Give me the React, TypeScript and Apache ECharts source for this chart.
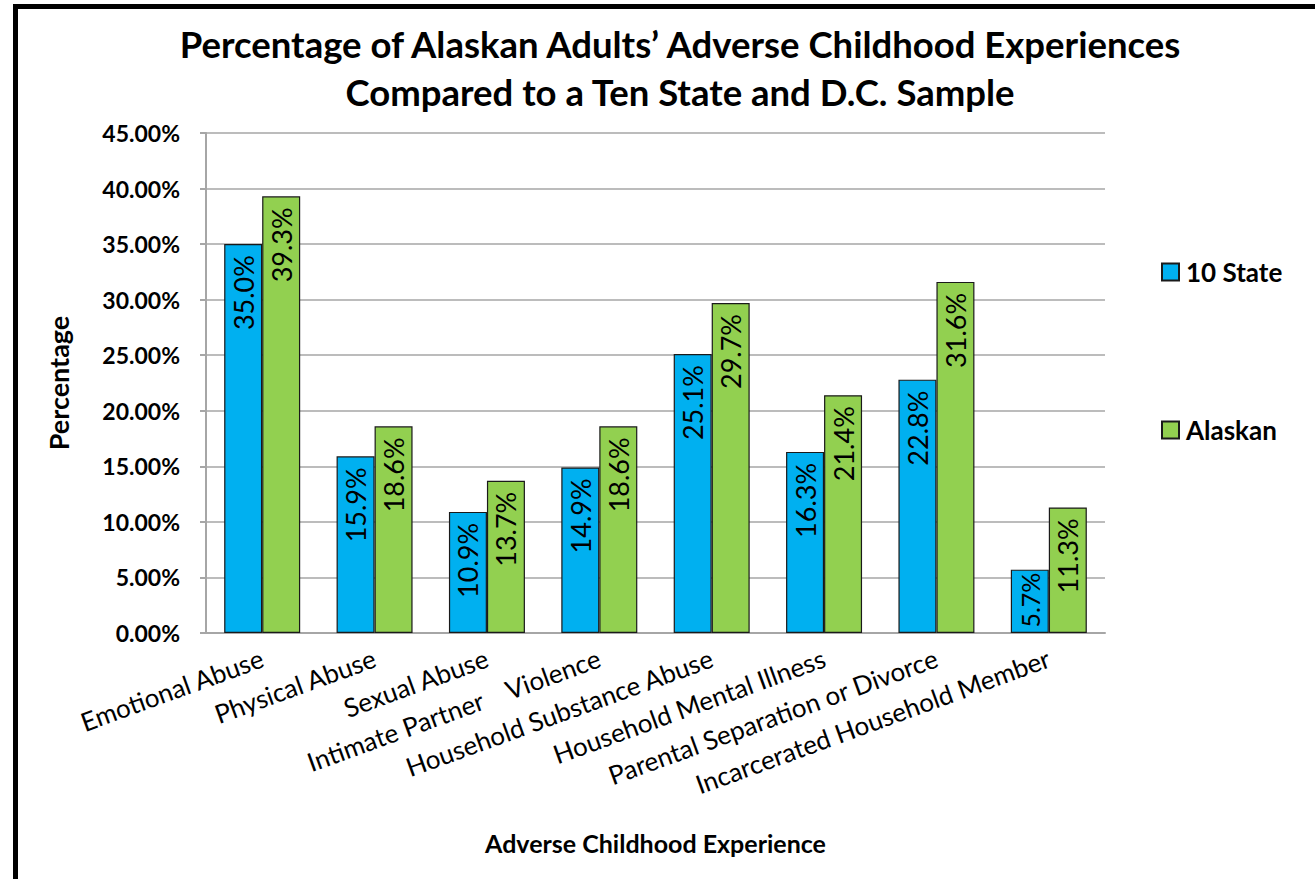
import React, { useEffect, useRef } from "react";
import * as echarts from "echarts";

const categories = [
  "Emotional Abuse",
  "Physical Abuse",
  "Sexual Abuse",
  "Intimate Partner    Violence",
  "Household Substance Abuse",
  "Household Mental Illness",
  "Parental Separation or Divorce",
  "Incarcerated Household Member",
];
const tenState = [35.0, 15.9, 10.9, 14.9, 25.1, 16.3, 22.8, 5.7];
const alaskan = [39.3, 18.6, 13.7, 18.6, 29.7, 21.4, 31.6, 11.3];
const seriesNames = ["10 State", "Alaskan"];
const titleLines = [
  "Percentage of Alaskan Adults\u2019 Adverse Childhood Experiences",
  "Compared to a Ten State and D.C. Sample",
];

const FONT = "Lato, 'Open Sans', sans-serif";

// short bars get their label pulled closer to the bar end so it fits (as Excel does)
const toItems = (vals: number[]) =>
  vals.map((v) => (v < 8 ? { value: v, label: { distance: 3, fontSize: 25 } } : v));

export default function App() {
  const ref = useRef<HTMLDivElement>(null);
  useEffect(() => {
    if (!ref.current) return;
    const chart = echarts.init(ref.current, null, { renderer: "svg" });
    const labelCfg = {
      show: true,
      position: "insideTop",
      rotate: 90,
      align: "right",
      verticalAlign: "middle",
      distance: 11,
      color: "#000",
      fontFamily: FONT,
      fontSize: 27,
      formatter: (p: any) => Number(p.value).toFixed(1) + "%",
    };
    chart.setOption({
      animation: false,
      backgroundColor: "#fff",
      textStyle: { fontFamily: FONT },
      title: {
        text: titleLines.join("\n"),
        left: 675,
        textAlign: "center",
        top: 15,
        textStyle: {
          fontFamily: FONT,
          fontWeight: "bold",
          fontSize: 36.5,
          lineHeight: 48,
          color: "#000",
        },
      },
      legend: {
        orient: "vertical",
        left: 1156,
        top: 254,
        itemGap: 132,
        itemWidth: 17,
        itemHeight: 17,
        icon: "rect",
        data: seriesNames,
        textStyle: { fontFamily: FONT, fontWeight: "bold", fontSize: 26, color: "#000", padding: [0, 0, 0, 2] },
      },
      grid: { left: 206, right: 210, top: 133, bottom: 246, containLabel: false },
      xAxis: {
        type: "category",
        data: categories,
        name: "Adverse Childhood Experience",
        nameLocation: "middle",
        nameGap: 197,
        nameTextStyle: { fontFamily: FONT, fontWeight: "bold", fontSize: 25, color: "#000" },
        axisLine: { show: true, lineStyle: { color: "#a6a6a6", width: 2 } },
        axisTick: { show: false },
        axisLabel: {
          rotate: 20,
          interval: 0,
          margin: 24,
          fontFamily: FONT,
          fontSize: 26,
          color: "#000",
        },
      },
      yAxis: {
        type: "value",
        min: 0,
        max: 45,
        interval: 5,
        name: "Percentage",
        nameLocation: "middle",
        nameGap: 134,
        nameTextStyle: { fontFamily: FONT, fontWeight: "bold", fontSize: 27, color: "#000" },
        axisLine: { show: true, lineStyle: { color: "#a6a6a6", width: 2 } },
        axisTick: { show: true, length: 6, lineStyle: { color: "#a6a6a6", width: 2 } },
        splitLine: { show: true, lineStyle: { color: "#a6a6a6", width: 1.5 } },
        axisLabel: {
          margin: 26,
          fontFamily: FONT,
          fontWeight: "bold",
          fontSize: 23,
          color: "#000",
          formatter: (v: number) => v.toFixed(2) + "%",
        },
      },
      series: [
        {
          name: seriesNames[0],
          type: "bar",
          data: toItems(tenState),
          barWidth: 38,
          barGap: "0%",
          itemStyle: { color: "#00B0F0", borderColor: "#1a1a1a", borderWidth: 1.2 },
          label: labelCfg,
        },
        {
          name: seriesNames[1],
          type: "bar",
          data: toItems(alaskan),
          barWidth: 38,
          barGap: "0%",
          itemStyle: { color: "#92D050", borderColor: "#1a1a1a", borderWidth: 1.2 },
          label: labelCfg,
        },
      ],
      graphic: [
        { type: "rect", shape: { x: 13, y: 4, width: 5, height: 875 }, style: { fill: "#000" } },
        { type: "rect", shape: { x: 13, y: 4, width: 1302, height: 5 }, style: { fill: "#000" } },
      ],
    });
    return () => chart.dispose();
  }, []);
  return (
    <div
      ref={ref}
      style={{ position: "fixed", left: 0, top: 0, width: 1315, height: 879 }}
    />
  );
}
